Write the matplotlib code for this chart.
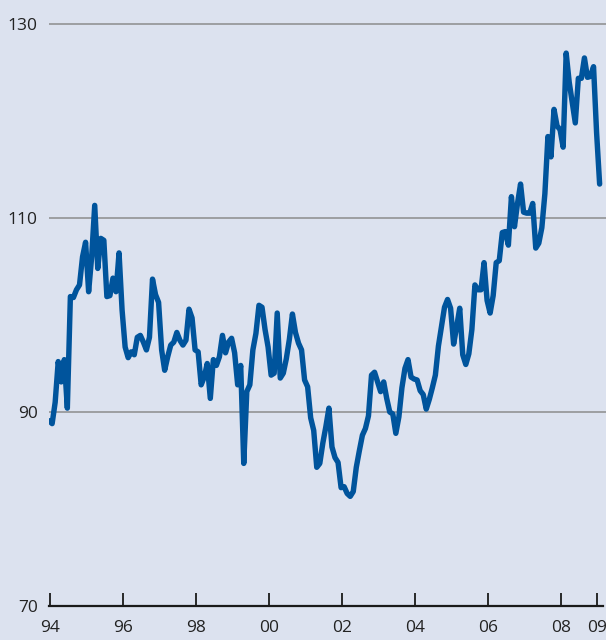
import matplotlib
matplotlib.use("Agg")
import matplotlib.pyplot as plt
import numpy as np

start_year = 1994
values = [
    89.1, 88.8, 91.0, 95.2, 93.1, 95.4, 90.4, 101.9, 101.8, 102.6, 103.1, 106.0,   # 1994
    107.5, 102.4, 106.0, 111.3, 104.8, 107.9, 107.7, 101.9, 102.0, 103.8, 102.4, 106.4,  # 1995
    100.5, 96.7, 95.6, 96.2, 95.9, 97.7, 97.9, 97.2, 96.4, 97.7, 103.7, 102.1,  # 1996
    101.3, 96.4, 94.3, 95.7, 96.9, 97.2, 98.2, 97.4, 96.9, 97.4, 100.6, 99.7,  # 1997
    96.4, 96.2, 92.8, 93.6, 95.0, 91.4, 95.4, 94.8, 95.7, 97.9, 96.1, 97.2,  # 1998
    97.6, 96.1, 92.8, 94.8, 84.7, 92.1, 92.8, 96.4, 98.1, 101.0, 100.8, 98.5,  # 1999
    96.7, 93.8, 94.0, 100.2, 93.5, 94.0, 95.5, 97.5, 100.1, 98.2, 97.1, 96.4,  # 2000
    93.3, 92.6, 89.4, 88.1, 84.3, 84.7, 86.8, 88.5, 90.4, 86.4, 85.3, 84.8,  # 2001
    82.2, 82.3, 81.6, 81.3, 81.8, 84.3, 86.0, 87.6, 88.3, 89.6, 93.8, 94.1,  # 2002
    93.1, 92.1, 93.1, 91.4, 90.0, 89.8, 87.8, 89.5, 92.5, 94.5, 95.4, 93.6,  # 2003
    93.4, 93.3, 92.2, 91.8, 90.3, 91.3, 92.5, 93.8, 96.8, 98.8, 100.8, 101.6,  # 2004
    100.7, 97.0, 98.8, 100.7, 95.9, 94.9, 96.0, 98.5, 103.1, 102.6, 102.6, 105.4,  # 2005
    101.5, 100.2, 102.0, 105.4, 105.6, 108.5, 108.6, 107.2, 112.2, 109.1, 111.5, 113.5,  # 2006
    110.6, 110.5, 110.5, 111.5, 106.9, 107.4, 109.0, 112.5, 118.4, 116.3, 121.2, 119.5,  # 2007
    119.1, 117.3, 127.0, 124.0, 121.9, 119.8, 124.4, 124.4, 126.5, 124.5, 124.6, 125.6,  # 2008
    118.8, 113.5,  # 2009
]
tick_years = [1994, 1996, 1998, 2000, 2002, 2004, 2006, 2008, 2009]
tick_labels = ["94", "96", "98", "00", "02", "04", "06", "08", "09"]
y_ticks = [70, 90, 110, 130]
y_labels = ["70", "90", "110", "130"]

dates = start_year + (np.arange(len(values)) - 0.3) / 12.0

bg = "#dce2ef"
plt.rcParams['font.family'] = ['Open Sans', 'DejaVu Sans']

fig = plt.figure(figsize=(6.06, 6.40), dpi=100, facecolor=bg)
ax = fig.add_axes([49/606, 34/640, 557/606, 606/640], facecolor=bg)

ax.set_xlim(1994 - 1/36.5, 1994 + 556/36.5)
ax.set_ylim(70, 130 + 24/9.7)

for yv in [90, 110, 130]:
    ax.axhline(yv, color="#8c8c8c", lw=1.1, zorder=1)

ax.plot(dates, values, color="#00549c", lw=3.9, solid_joinstyle="round", solid_capstyle="round", zorder=3)

for s in ["top", "right", "left"]:
    ax.spines[s].set_visible(False)
ax.spines["bottom"].set_color("#1a1a1a")
ax.spines["bottom"].set_linewidth(1.6)
ax.spines["bottom"].set_bounds(1994 - 1/36.5, 2009.15)

ax.set_xticks(tick_years)
ax.set_xticklabels(tick_labels)
ax.tick_params(axis="x", direction="in", length=9.5, width=1.3, color="#1a1a1a",
               pad=10, labelsize=12.5, labelcolor="#222222")
ax.set_yticks(y_ticks)
ax.set_yticklabels(y_labels)
ax.tick_params(axis="y", length=0, pad=8, labelsize=12.5, labelcolor="#222222")

fig.savefig("out.png", dpi=100, facecolor=bg)
